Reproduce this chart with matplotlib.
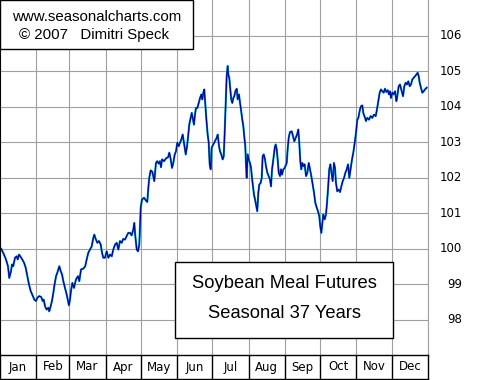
import numpy as np
import matplotlib.pyplot as plt
from matplotlib.patches import Rectangle

# seasonal pattern, day of year vs index value
days = [0.0, 0.9, 3.4, 5.1, 6.8, 7.9, 9.4, 10.2, 11.3, 12.8, 14.2, 15.1, 16.2, 17.7, 19.0,
        20.5, 21.9, 23.3, 24.7, 26.2, 27.5, 29.3, 30.7, 31.8, 33.5, 35.2, 36.4, 37.3, 38.4,
        39.8, 41.2, 42.0, 43.2, 44.3, 45.5, 46.3, 47.8, 48.9, 50.6, 51.8, 52.9, 54.0, 55.4,
        56.9, 58.0, 58.8, 59.7, 60.5, 61.7, 63.1, 64.8, 66.5, 67.6, 69.1, 71.0, 72.7, 73.9,
        75.3, 76.8, 78.2, 79.6, 80.4, 81.6, 83.0, 84.4, 85.9, 87.0, 88.1, 89.5, 91.0, 92.4,
        93.8, 95.3, 96.6, 98.1, 99.5, 100.9, 102.3, 103.8, 105.1, 106.6, 108.0, 109.4, 110.9,
        112.3, 113.7, 114.5, 115.4, 116.6, 117.7, 118.8, 119.4, 120.0, 121.1, 122.8, 124.5,
        125.6, 126.5, 127.3, 128.5, 129.9, 130.7, 131.6, 132.4, 133.0, 134.1, 135.3, 136.4,
        137.3, 138.2, 139.9, 141.6, 143.3, 144.4, 145.6, 146.7, 147.8, 149.0, 150.1, 151.2,
        152.4, 153.5, 154.6, 155.8, 156.7, 157.5, 158.4, 159.5, 160.3, 161.4, 162.6, 163.5,
        164.3, 165.4, 166.3, 167.1, 168.3, 169.5, 170.6, 171.7, 172.5, 173.4, 174.2, 175.1,
        175.9, 177.1, 178.0, 178.8, 179.7, 180.5, 181.9, 183.4, 184.8, 185.7, 186.8, 187.6,
        188.7, 189.9, 190.8, 191.6, 192.5, 193.3, 194.2, 194.7, 195.5, 196.4, 197.2, 198.1,
        199.0, 199.8, 200.7, 201.9, 202.7, 203.8, 204.7, 205.5, 206.6, 207.5, 208.3, 209.2,
        209.8, 210.4, 211.2, 212.1, 213.2, 214.1, 214.9, 215.8, 216.6, 217.5, 218.6, 219.4,
        220.3, 221.1, 222.3, 223.2, 224.0, 224.9, 226.0, 226.8, 228.0, 229.1, 230.3, 231.1,
        232.0, 233.1, 234.3, 235.1, 236.0, 236.8, 237.7, 238.8, 239.6, 240.5, 241.6, 242.8,
        244.5, 245.3, 246.2, 247.3, 248.8, 249.9, 251.0, 252.2, 253.3, 254.4, 255.2, 256.1,
        256.9, 257.8, 258.7, 259.8, 261.0, 262.1, 263.3, 264.4, 265.5, 266.7, 267.8, 268.9,
        270.1, 271.2, 272.3, 273.1, 274.0, 274.9, 275.7, 276.9, 278.0, 278.9, 279.7, 280.8,
        281.7, 282.9, 283.7, 284.8, 285.7, 286.5, 287.6, 288.8, 290.0, 291.1, 292.3, 293.4,
        294.5, 295.7, 296.8, 297.9, 299.1, 300.2, 301.3, 302.5, 303.6, 304.7, 305.6, 307.0,
        307.9, 309.0, 309.8, 311.3, 312.1, 313.2, 314.7, 316.1, 317.5, 318.9, 320.4, 321.5,
        322.6, 323.8, 324.9, 326.0, 327.2, 328.3, 329.4, 330.6, 331.7, 332.6, 333.4, 334.6,
        335.7, 336.9, 338.0, 338.8, 340.0, 341.1, 342.6, 343.7, 344.8, 346.0, 347.1, 348.2,
        349.4, 350.5, 351.6, 352.8, 353.9, 355.0, 356.2, 357.1, 357.9, 359.0, 360.1, 361.3,
        362.4, 363.9]
values = [100.0, 100.0, 99.83, 99.69, 99.5, 99.17, 99.36, 99.55, 99.5, 99.74, 99.78, 99.69,
          99.83, 99.76, 99.69, 99.6, 99.46, 99.22, 98.99, 98.8, 98.7, 98.56, 98.52, 98.61,
          98.66, 98.63, 98.52, 98.56, 98.37, 98.28, 98.33, 98.23, 98.37, 98.52, 98.75, 98.94,
          99.22, 99.32, 99.5, 99.36, 99.27, 99.08, 98.89, 98.7, 98.52, 98.4, 98.56, 98.8,
          99.03, 98.89, 99.13, 99.22, 99.08, 99.41, 99.43, 99.5, 99.69, 99.88, 99.97, 100.06,
          100.3, 100.39, 100.27, 100.16, 100.21, 100.11, 99.88, 99.74, 99.74, 99.92, 99.74,
          99.83, 99.78, 99.97, 100.11, 100.16, 99.97, 100.21, 100.16, 100.27, 100.25, 100.35,
          100.44, 100.44, 100.37, 100.54, 100.72, 100.35, 99.97, 99.92, 100.11, 100.6, 101.15,
          101.38, 101.43, 101.35, 101.31, 101.71, 101.99, 102.2, 102.16, 102.04, 101.9, 102.18,
          102.41, 102.46, 102.39, 102.46, 102.29, 102.51, 102.46, 102.54, 102.57, 102.7,
          102.51, 102.27, 102.41, 102.65, 102.74, 102.98, 102.88, 102.98, 103.07, 103.21,
          103.02, 102.84, 102.65, 102.88, 103.12, 103.49, 103.68, 103.82, 103.68, 103.49,
          103.77, 103.96, 103.96, 104.1, 104.24, 104.34, 104.2, 104.39, 104.48, 104.06,
          103.68, 103.21, 102.98, 102.37, 102.23, 102.84, 102.93, 103.02, 103.12, 103.21,
          102.88, 102.74, 102.65, 102.51, 102.6, 103.26, 104.1, 104.85, 105.14, 104.9, 104.81,
          104.48, 104.2, 104.1, 104.24, 104.29, 104.43, 104.5, 104.2, 104.34, 104.1, 103.92,
          103.63, 103.45, 103.16, 102.88, 102.37, 101.99, 102.65, 102.51, 102.41, 102.27,
          101.99, 101.75, 101.52, 101.38, 101.19, 101.05, 101.57, 101.8, 101.85, 101.99,
          102.6, 102.65, 102.51, 102.32, 102.13, 102.04, 101.94, 101.75, 102.23, 102.51,
          102.84, 102.93, 102.79, 102.51, 102.13, 102.04, 102.23, 102.08, 102.23, 102.27,
          102.41, 102.79, 103.12, 103.28, 103.3, 103.16, 103.02, 103.12, 103.21, 103.35,
          102.98, 102.46, 102.23, 102.41, 102.32, 102.37, 102.04, 102.13, 102.41, 102.23,
          102.04, 101.8, 101.57, 101.29, 101.15, 101.05, 100.91, 100.63, 100.44, 100.72,
          100.96, 100.82, 100.96, 101.29, 101.66, 102.23, 102.37, 102.08, 101.9, 102.41,
          102.27, 101.85, 101.61, 101.66, 101.59, 101.75, 101.9, 101.99, 102.13, 102.23,
          102.37, 101.99, 102.27, 102.51, 102.7, 102.98, 103.26, 103.63, 103.68, 103.92,
          104.01, 104.03, 103.82, 103.68, 103.59, 103.68, 103.63, 103.73, 103.68, 103.77,
          103.73, 103.92, 104.15, 104.39, 104.48, 104.43, 104.39, 104.5, 104.41, 104.46,
          104.34, 104.43, 104.24, 104.39, 104.34, 104.43, 104.15, 104.29, 104.57, 104.62,
          104.43, 104.29, 104.57, 104.67, 104.62, 104.71, 104.57, 104.62, 104.76, 104.81,
          104.85, 104.9, 104.95, 104.85, 104.67, 104.53, 104.39, 104.43, 104.48, 104.53]

months = ['Jan', 'Feb', 'Mar', 'Apr', 'May', 'Jun', 'Jul', 'Aug', 'Sep', 'Oct', 'Nov', 'Dec']
month_len = [31, 28, 31, 30, 31, 30, 31, 31, 30, 31, 30, 31]
y_ticks = [98, 99, 100, 101, 102, 103, 104, 105, 106]

edges = np.concatenate([[0], np.cumsum(month_len)])
mids = (edges[:-1] + edges[1:]) / 2.0

grid_col = '#a0a0a0'
fig = plt.figure(figsize=(4.8, 3.8), dpi=100)

#main plot
ax = fig.add_axes([0.0, 25/380, 428/480, 355/380])
ax.set_xlim(0, 365)
ax.set_ylim(97, 107)
ax.set_xticks(edges)
ax.set_yticks(y_ticks)
ax.grid(True, color=grid_col, lw=0.8)
ax.tick_params(length=0, labelbottom=False, labelleft=False)
for s in ['top', 'bottom']:
    ax.spines[s].set_visible(False)
ax.spines['right'].set_color(grid_col)
ax.spines['right'].set_linewidth(0.8)
ax.spines['left'].set_color('black')
ax.spines['left'].set_linewidth(1.5)
ax.plot(days, values, color='#00a8c8', lw=1.5)
ax.plot(days, values, color='#0000a0', lw=0.9)

for v in y_ticks:
    ax.text(1.08, v, str(v), transform=ax.get_yaxis_transform(), ha='right', va='center',
            fontsize=8.5, family='DejaVu Sans', clip_on=False)

#title boxes
ax.add_patch(Rectangle((0.0, 1 - 49/355), 193/428, 49/355, transform=ax.transAxes,
                       facecolor='white', edgecolor='black', lw=1.0, zorder=5, clip_on=False))
ax.text(97/428, 1 - 17/355, 'www.seasonalcharts.com', transform=ax.transAxes, ha='center',
        va='center', fontsize=10.8, family='Liberation Sans', zorder=6)
ax.text(94/428, 1 - 35/355, '\u00a9 2007   Dimitri Speck', transform=ax.transAxes, ha='center',
        va='center', fontsize=10.8, family='Liberation Sans', zorder=6)

ax.add_patch(Rectangle((175/428, 1 - 338/355), 218/428, 76/355, transform=ax.transAxes,
                       facecolor='white', edgecolor='black', lw=1.0, zorder=5))
ax.text(284/428, 1 - 284/355, 'Soybean Meal Futures', transform=ax.transAxes, ha='center',
        va='center', fontsize=13.2, family='Liberation Sans', zorder=6)
ax.text(284/428, 1 - 313/355, 'Seasonal 37 Years', transform=ax.transAxes, ha='center',
        va='center', fontsize=13.2, family='Liberation Sans', zorder=6)

#month strip
ax2 = fig.add_axes([0.0, 1/380, 428/480, 24/380])
ax2.set_xlim(0, 365)
ax2.set_ylim(0, 1)
ax2.set_xticks([])
ax2.set_yticks([])
for s in ax2.spines.values():
    s.set_color('black')
    s.set_linewidth(1.0)
for e in edges[1:-1]:
    ax2.axvline(e, color='black', lw=1.0)
for m, x in zip(months, mids):
    ax2.text(x, 0.5, m, ha='center', va='center', fontsize=8.5, family='DejaVu Sans')

fig.savefig('out.png', dpi=100)
